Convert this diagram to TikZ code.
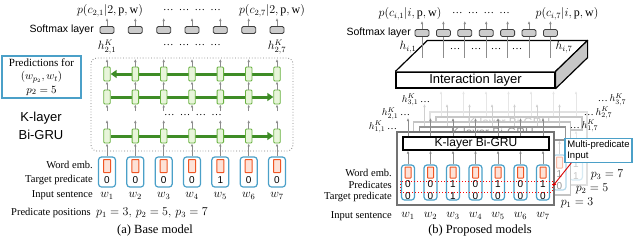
\documentclass[tikz,border=0pt]{standalone}
\usepackage{fontspec}
\setmainfont{Liberation Serif}
\setsansfont{Liberation Sans}
\usepackage{amsmath}
\usetikzlibrary{arrows.meta,positioning,calc,backgrounds}
\definecolor{inblue}{RGB}{75,160,200}
\definecolor{embred}{RGB}{240,85,35}
\definecolor{embfill}{RGB}{253,226,215}
\definecolor{grugreen}{RGB}{105,178,65}
\definecolor{grufill}{RGB}{232,245,218}
\definecolor{arrgreen}{RGB}{62,140,38}
\tikzset{
  lbl/.style={inner sep=0pt, font=\fontsize{10.5}{12}\selectfont},
  plbl/.style={inner sep=0pt, font=\fontsize{12}{14}\selectfont},
  sans/.style={inner sep=0pt, font=\sffamily\fontsize{10.5}{12}\selectfont},
  digit/.style={inner sep=0pt, font=\sffamily\fontsize{10}{11}\selectfont},
  smax/.style={rounded corners=1.5pt, draw=black!75, fill=black!20, line width=0.8pt,
               minimum width=14pt, minimum height=7pt, inner sep=0pt},
  cell/.style={rounded corners=1pt, draw=grugreen, fill=grufill, line width=0.9pt,
               minimum width=6.5pt, minimum height=14pt, inner sep=0pt},
  inbox/.style={rounded corners=3pt, draw=inblue, line width=1.2pt,
                minimum width=17pt, minimum height=30pt, inner sep=0pt},
  emb/.style={rounded corners=0.5pt, draw=embred, fill=embfill, line width=1pt,
              minimum width=7pt, minimum height=13pt, inner sep=0pt},
  up/.style={-{Latex[length=3pt,width=2.6pt]}, line width=0.7pt, draw=black!45},
  bigarr/.style={-{Triangle[length=6pt,width=8pt]}, line width=3pt, draw=arrgreen},
  bluebox/.style={draw=inblue, line width=1.3pt, inner sep=2pt},
}
\begin{document}
\begin{tikzpicture}[x=1pt,y=-1pt,
    frame/.style={draw, line width=1.2pt, fill=white, minimum width=157pt,
                  minimum height=73pt, inner sep=0pt},
    grubox/.style={draw, line width=1.2pt, fill=white, minimum width=146pt,
                   minimum height=13pt, inner sep=0pt, font=\sffamily\fontsize{12}{12}\selectfont},
    ilayer/.style={draw, line width=1.2pt, fill=white, minimum width=159pt,
                   minimum height=16pt, inner sep=0pt, font=\sffamily\fontsize{13}{13}\selectfont},
    hk/.style={inner sep=0pt, font=\fontsize{10}{11}\selectfont},
    redarr/.style={-{Latex[length=4pt,width=3.5pt]}, line width=0.9pt, draw=red!85!black}]
  \useasboundingbox (0,0) rectangle (640,242);
  % (a) base model
  \foreach \i/\x/\t in {1/107/0,2/135.3/0,3/163.7/0,4/192/0,5/220.3/1,6/248.7/0,7/277/0}{
    \node[smax] (sa\i) at (\x,30) {};
    \coordinate (sat\i) at (\x,18);
    \draw[up] (sa\i) -- (sat\i);
    \node[cell] (ga\i) at (\x,74) {};
    \node[cell] (gb\i) at (\x,97) {};
    \node[cell] (gc\i) at (\x,136) {};
    \coordinate (gat\i) at (\x,59);
    \coordinate (gbb\i) at (\x,111);
    \coordinate (gct\i) at (\x,120);
    \draw[up] (ga\i) -- (gat\i);
    \draw[up] (gb\i) -- (ga\i);
    \draw[up] (gbb\i) -- (gb\i);
    \draw[up] (gc\i) -- (gct\i);
    \node[inbox] (ia\i) at (\x,172) {};
    \node[emb] (ea\i) at (\x,166) {};
    \node[digit] (da\i) at (\x,180.5) {\t};
    \draw[up] (ia\i) -- (gc\i);
    \node[plbl] (wa\i) at (\x,196) {$w_{\i}$};
  }
  \begin{scope}[on background layer]
    \draw[black!50, dotted, line width=0.8pt, rounded corners=6pt] (91,58) rectangle (293,151);
    \draw[bigarr] (ga7.west) -- (ga1.east);
    \draw[bigarr] (gb1.east) -- (gb7.west);
    \draw[bigarr] (gc1.east) -- (gc7.west);
  \end{scope}
  \node[plbl] (pa1) at (110,11) {$p(c_{2,1}|2,\mathrm{p},\mathrm{w})$};
  \node[lbl] (padots) at (192,10) {\dots\enspace\dots\enspace\dots\enspace\dots};
  \node[plbl] (pa7) at (272,11) {$p(c_{2,7}|2,\mathrm{p},\mathrm{w})$};
  \node[sans, anchor=east] (smxa) at (94,30) {Softmax layer};
  \node[plbl] (ha1) at (107,47) {$h^K_{2,1}$};
  \node[lbl] (hadots) at (192,45) {\dots\enspace\dots\enspace\dots\enspace\dots};
  \node[plbl] (ha7) at (277,47) {$h^K_{2,7}$};
  \node[lbl] (mdots) at (193,115) {\dots\enspace\dots\enspace\dots\enspace\dots};
  \node[bluebox, minimum width=79pt, minimum height=42pt, align=center,
        font=\fontsize{11}{13.5}\selectfont] (pred) at (41.5,77)
    {Predictions for\\$(w_{p_2},w_t)$\\$p_2=5$};
  \node[align=center, inner sep=0pt, font=\sffamily\fontsize{13}{18}\selectfont] (kla) at (41,126)
    {K-layer\\Bi-GRU};
  \node[lbl, anchor=east] (wemba) at (93,165) {Word emb.};
  \node[lbl, anchor=east] (tpa) at (93,180) {Target predicate};
  \node[lbl, anchor=east] (insa) at (93,195) {Input sentence};
  \node[lbl, anchor=west] (ppos) at (11,213) {Predicate positions};
  \node[plbl, base right=5pt of ppos] (pposv) {$p_1=3,\,p_2=5,\,p_3=7$};
  \node[font=\fontsize{12.5}{14}\selectfont, inner sep=0pt] (capa) at (155,230) {(a) Base model};
  % (b) proposed models: three stacked copies, one per predicate
  \foreach \k/\dx/\dy/\fd/\tp/\ty in {3/33/-20/22/7/111,2/16.5/-10/42/5/114,1/0/0/100/3/118}{
    \begin{scope}[shift={(\dx,\dy)}]
      \colorlet{cfr}{black!55!white!\fd!white}
      \colorlet{cgr}{black!\fd!white}
      \colorlet{cup}{black!45!white!\fd!white}
      \colorlet{cbl}{inblue!\fd!white}
      \colorlet{cem}{embred!\fd!white}
      \colorlet{cef}{embfill!\fd!white}
      \node[frame, draw=cfr] (fr\k) at (475.5,168.5) {};
      \node[grubox, draw=cgr, text=cgr] (gru\k) at (476,143.5) {K-layer Bi-GRU};
      \foreach \i/\x/\pr in {1/408/0,2/430.5/0,3/453/1,4/475.5/0,5/498/1,6/520.5/0,7/543/1}{
        \node[inbox, draw=cbl, minimum width=13pt, minimum height=35pt] (in\k\i) at (\x,182.5) {};
        \node[emb, draw=cem, fill=cef, minimum width=6pt, minimum height=11pt] (em\k\i) at (\x,172.5) {};
        \node[digit, text=cgr] (pr\k\i) at (\x,184.5) {\pr};
        \node[digit, text=cgr] (tg\k\i) at (\x,196.5) {\ifnum\i=\tp\relax 1\else 0\fi};
        \coordinate (ht\k\i) at (\x,\ty);
        \draw[up, draw=cup] (in\k\i) -- (in\k\i |- gru\k.south);
        \draw[up, draw=cup] (gru\k.north -| in\k\i) -- (ht\k\i);
      }
    \end{scope}
  }
  \node[draw=red, dotted, line width=1pt, minimum width=152pt, minimum height=11pt,
        inner sep=0pt] (prow) at (476,186.5) {};
  \foreach \i/\x in {1/408,2/430.5,3/453,4/475.5,5/498,6/520.5,7/543}
    \node[plbl] (wb\i) at (\x,216) {$w_{\i}$};
  \node[lbl, anchor=east] (wembb) at (392,173) {Word emb.};
  \node[lbl, anchor=east] (predb) at (392,184.5) {Predicates};
  \node[lbl, anchor=east] (tpb) at (392,196.5) {Target predicate};
  \node[lbl, anchor=east] (insb) at (392,216) {Input sentence};
  \node[plbl] (pp1) at (577,203) {$p_1=3$};
  \node[plbl] (pp2) at (592,188.5) {$p_2=5$};
  \node[plbl] (pp3) at (607,175) {$p_3=7$};
  \node[hk] (hk11) at (383,127) {$h^K_{1,1}$\,\dots};
  \node[hk] (hk21) at (396,113.5) {$h^K_{2,1}$\,\dots};
  \node[hk] (hk31) at (416,100) {$h^K_{3,1}$\,\dots};
  \node[hk] (hk17) at (584,126) {\dots\,$h^K_{1,7}$};
  \node[hk] (hk27) at (598,113) {\dots\,$h^K_{2,7}$};
  \node[hk] (hk37) at (612,99.5) {\dots\,$h^K_{3,7}$};
  \node[bluebox, fill=white, align=left, minimum width=67pt, minimum height=21pt,
        font=\sffamily\fontsize{9.5}{10.5}\selectfont] (mp) at (598.5,150.5) {Multi-predicate\\Input};
  \draw[redarr] ([xshift=7pt]mp.south west) -- (prow.east);
  % interaction layer as a flat slab
  \node[ilayer] (il) at (475.5,80) {Interaction layer};
  \draw[line width=1.2pt, fill=white, line join=round] (il.north west) -- ($(il.north west)+(32,-31)$)
    -- ($(il.north east)+(32,-31)$) -- (il.north east);
  \draw[line width=1.2pt, fill=black!22, line join=round] (il.north east) -- ($(il.north east)+(32,-31)$)
    -- ($(il.south east)+(32,-31)$) -- (il.south east) -- cycle;
  \foreach \i/\x in {1/422,2/443.4,3/464.8,4/486.2,5/507.6,6/529,7/550.4}{
    \coordinate (sbb\i) at (\x,58);
    \coordinate (sbt\i) at (\x,21);
    \node[smax] (sb\i) at (\x,33) {};
    \draw[line width=1pt, black!45] (sb\i) -- (sbb\i);
    \draw[up] (sb\i) -- (sbt\i);
  }
  \node[sans, anchor=east] (smxb) at (411,33) {Softmax layer};
  \node[plbl] (hb1) at (408,47) {$h_{i,1}$};
  \node[plbl] (hb7) at (564,47) {$h_{i,7}$};
  \foreach \x in {455,476,496,517}
    \node[lbl] at (\x,49) {\dots};
  \node[plbl] (pb1) at (410,14) {$p(c_{i,1}|i,\mathrm{p},\mathrm{w})$};
  \node[lbl] (pbdots) at (481,13) {\dots\enspace\dots\enspace\dots\enspace\dots};
  \node[plbl] (pb7) at (567,14) {$p(c_{i,7}|i,\mathrm{p},\mathrm{w})$};
  \node[font=\fontsize{12.5}{14}\selectfont, inner sep=0pt] (capb) at (480,230) {(b) Proposed models};
\end{tikzpicture}
\end{document}
